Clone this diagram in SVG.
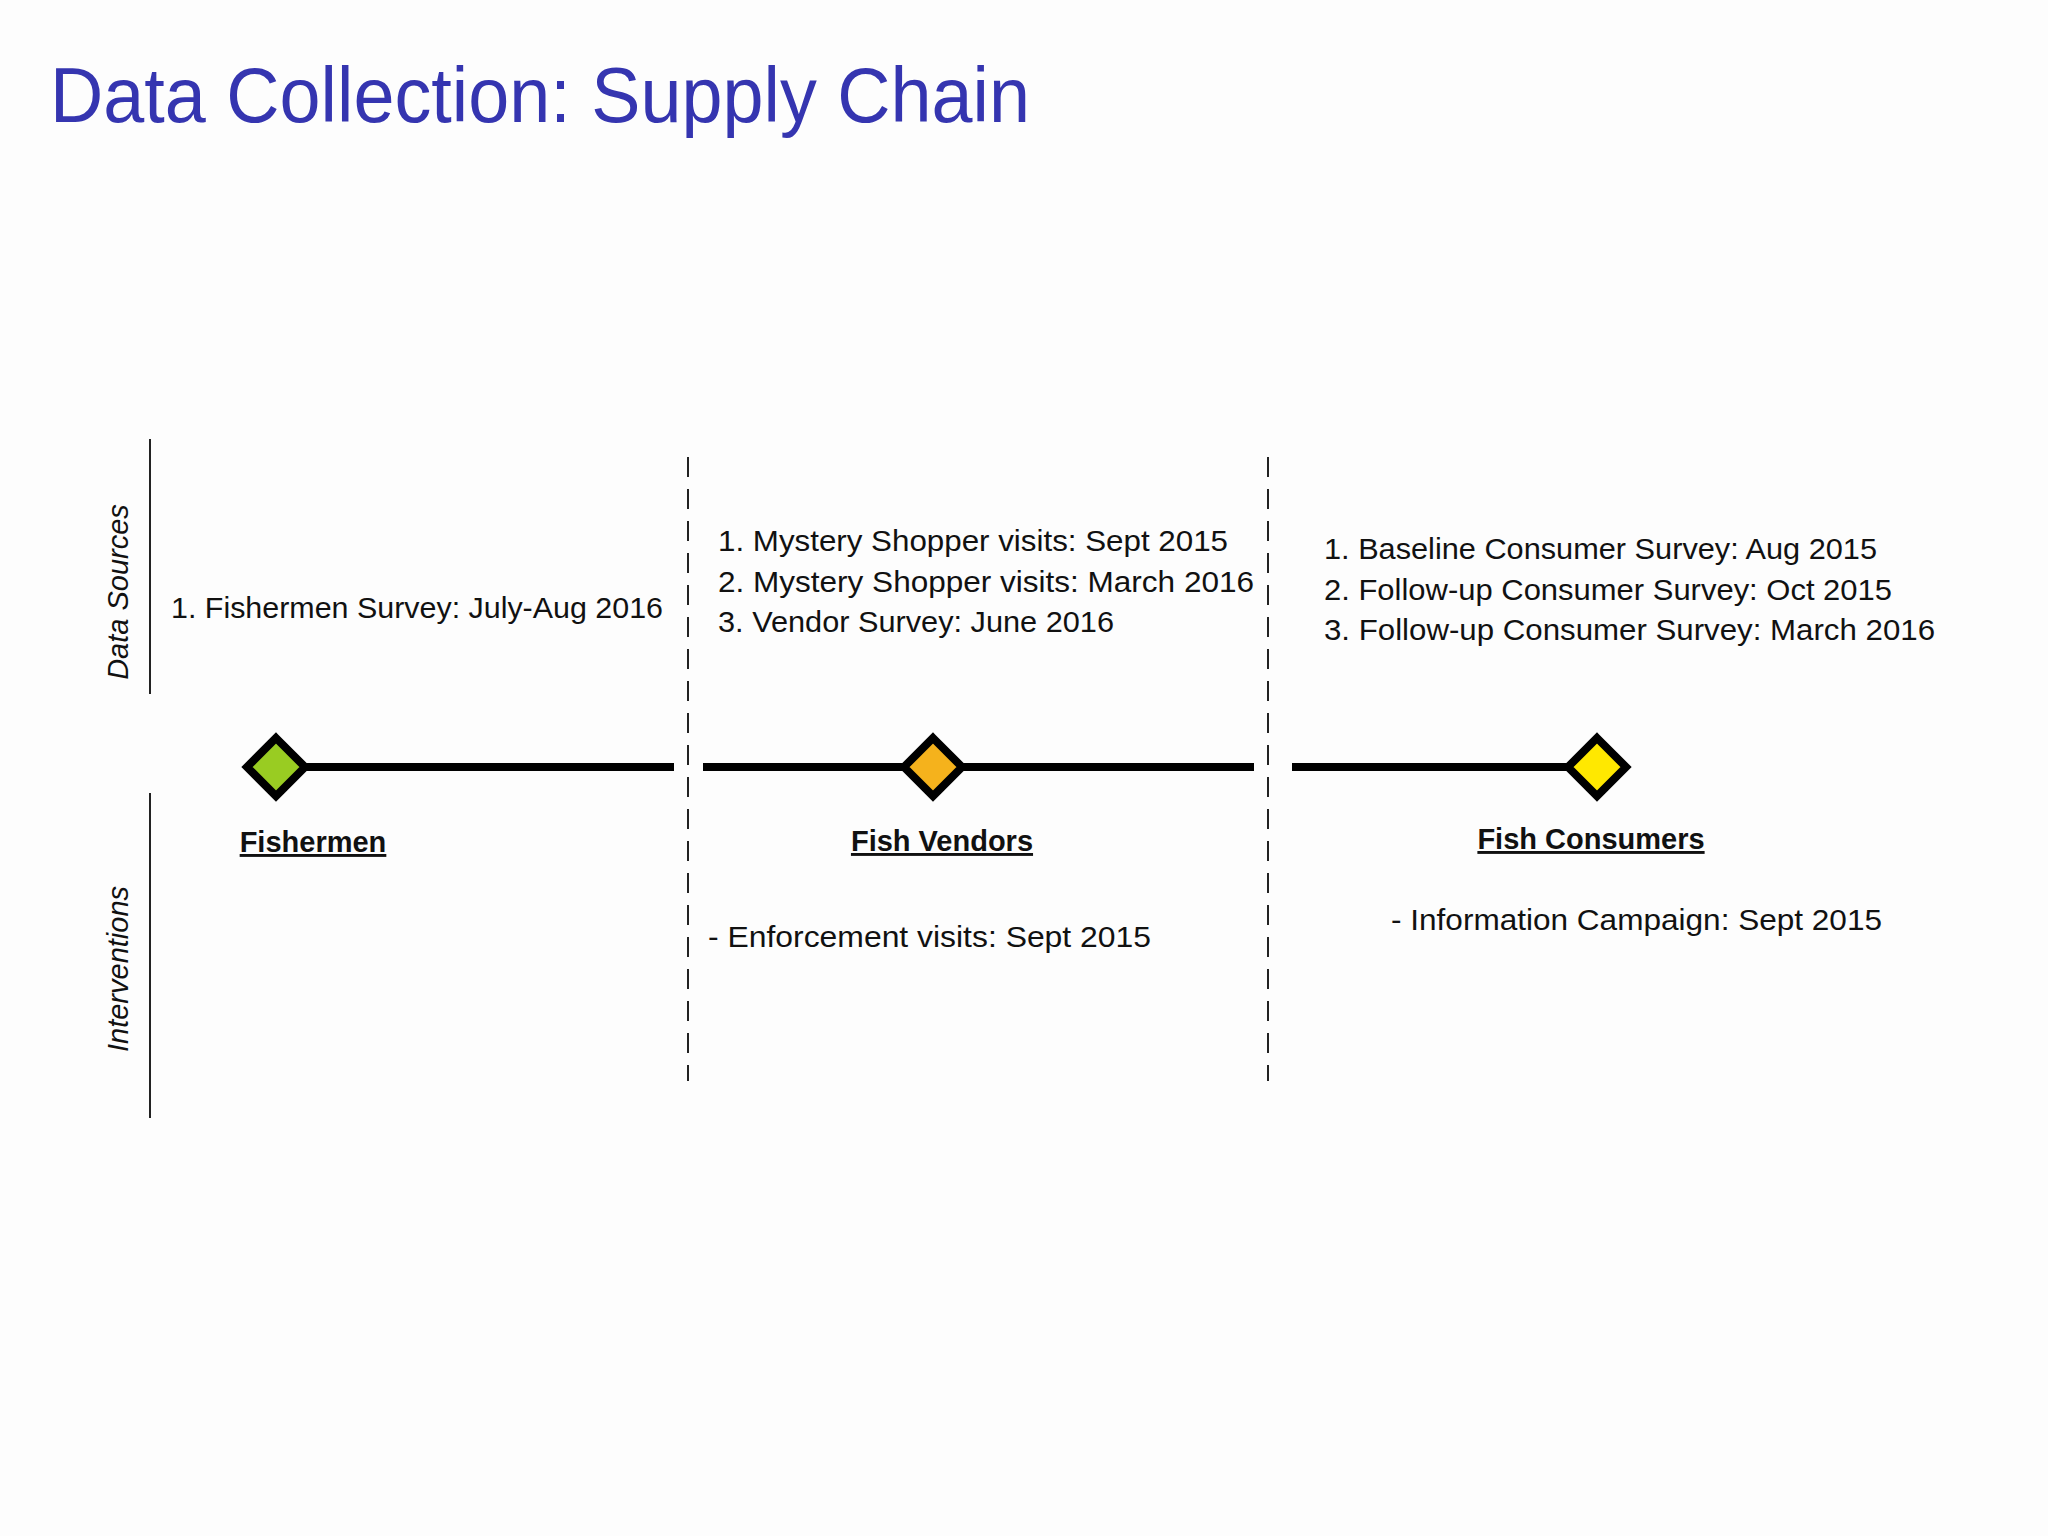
<svg xmlns="http://www.w3.org/2000/svg" width="2048" height="1536" viewBox="0 0 2048 1536">
<style>
.t{font-family:"Liberation Sans",Arial,sans-serif;font-size:29px;fill:#111}
.h{font-family:"Liberation Sans",Arial,sans-serif;font-size:29px;font-weight:bold;fill:#111;text-decoration:underline;text-anchor:middle}
.side{font-family:"Liberation Sans",Arial,sans-serif;font-size:29px;font-style:italic;fill:#111;text-anchor:middle}
.dash{stroke:#222;stroke-width:2;stroke-dasharray:20,12}
.bar{stroke:#000;stroke-width:8}
.dia{stroke:#000;stroke-width:8}
</style>
<rect width="2048" height="1536" fill="#fdfdfd"/>
<text x="50" y="122" font-family="Liberation Sans,Arial,sans-serif" font-size="78" fill="#3535b0" textLength="980" lengthAdjust="spacingAndGlyphs">Data Collection: Supply Chain</text>
<g id="axes">
<line x1="150" y1="439" x2="150" y2="694" stroke="#222" stroke-width="2"/>
<line x1="150" y1="793" x2="150" y2="1118" stroke="#222" stroke-width="2"/>
<text class="side" transform="translate(128,592) rotate(-90)">Data Sources</text>
<text class="side" transform="translate(128,969) rotate(-90)">Interventions</text>
</g>
<g id="connectors">
<line class="dash" x1="688" y1="457" x2="688" y2="1081"/>
<line class="dash" x1="1268" y1="457" x2="1268" y2="1081"/>
<line class="bar" x1="306" y1="767" x2="674" y2="767"/>
<line class="bar" x1="703" y1="767" x2="1254" y2="767"/>
<line class="bar" x1="1292" y1="767" x2="1580" y2="767"/>
</g>
<g id="fishermen">
<polygon class="dia" points="276,738 305,767 276,796 247,767" fill="#99cc22"/>
<text class="h" x="313" y="852">Fishermen</text>
<text class="t" x="171" y="618" textLength="492" lengthAdjust="spacingAndGlyphs">1. Fishermen Survey: July-Aug 2016</text>
</g>
<g id="vendors">
<polygon class="dia" points="933,738 962,767 933,796 904,767" fill="#f5b21c"/>
<text class="h" x="942" y="851">Fish Vendors</text>
<text class="t" x="718" y="551" textLength="510" lengthAdjust="spacingAndGlyphs">1. Mystery Shopper visits: Sept 2015</text>
<text class="t" x="718" y="592" textLength="536" lengthAdjust="spacingAndGlyphs">2. Mystery Shopper visits: March 2016</text>
<text class="t" x="718" y="632" textLength="396" lengthAdjust="spacingAndGlyphs">3. Vendor Survey: June 2016</text>
<text class="t" x="708" y="947" textLength="443" lengthAdjust="spacingAndGlyphs">- Enforcement visits:  Sept 2015</text>
</g>
<g id="consumers">
<polygon class="dia" points="1597,738 1626,767 1597,796 1568,767" fill="#ffe800"/>
<text class="h" x="1591" y="849">Fish Consumers</text>
<text class="t" x="1324" y="559" textLength="553" lengthAdjust="spacingAndGlyphs">1. Baseline Consumer Survey: Aug 2015</text>
<text class="t" x="1324" y="600" textLength="568" lengthAdjust="spacingAndGlyphs">2. Follow-up Consumer Survey: Oct 2015</text>
<text class="t" x="1324" y="640" textLength="611" lengthAdjust="spacingAndGlyphs">3. Follow-up Consumer Survey: March 2016</text>
<text class="t" x="1391" y="930" textLength="491" lengthAdjust="spacingAndGlyphs">- Information Campaign: Sept 2015</text>
</g>
</svg>
